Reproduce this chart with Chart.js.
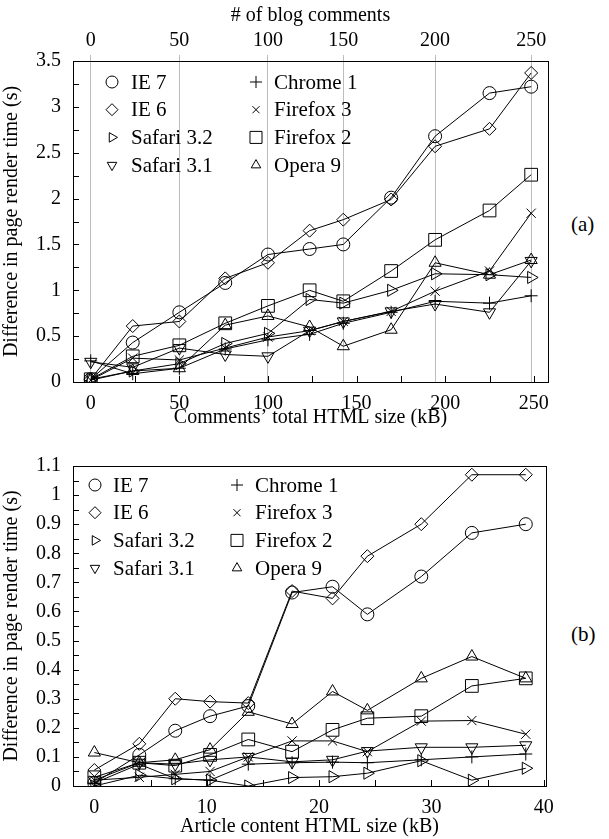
<!DOCTYPE html>
<html>
<head>
<meta charset="utf-8">
<script src="https://cdn.jsdelivr.net/npm/chart.js@4.4.1/dist/chart.umd.min.js"></script>
<style>
body { margin: 0; background: #fff; width: 609px; height: 839px; position: relative; overflow: hidden; font-family: "Liberation Serif", serif; }
.box { position: absolute; left: 0; width: 566px; }
#boxA { top: 0; height: 430px; }
#boxB { top: 440px; height: 399px; }
.tag { position: absolute; font-size: 21px; color: #000; }
</style>
</head>
<body>
<div class="box" id="boxA"><canvas id="chartA"></canvas></div>
<div class="box" id="boxB"><canvas id="chartB"></canvas></div>
<div class="tag" style="left:571px;top:212px">(a)</div>
<div class="tag" style="left:571px;top:622px">(b)</div>
<script>
const browsers = ["IE 7", "IE 6", "Safari 3.2", "Safari 3.1", "Chrome 1", "Firefox 3", "Firefox 2", "Opera 9"];

// (a) blog comments
const commentsKB = [0, 23.7, 50, 75.9, 100, 123.5, 142.5, 169.5, 194.3, 225, 248.5];
const commentTicks = [0, 50, 100, 150, 200, 250];
const ie7A = [0.03, 0.43, 0.76, 1.08, 1.39, 1.45, 1.50, 2.01, 2.68, 3.15, 3.22];
const ie6A = [0.03, 0.61, 0.66, 1.13, 1.30, 1.65, 1.77, 1.99, 2.57, 2.76, 3.37];
const safari32A = [0.03, 0.12, 0.20, 0.42, 0.53, 0.90, 0.86, 1.00, 1.18, 1.17, 1.14];
const safari31A = [0.22, 0.16, 0.37, 0.30, 0.28, 0.56, 0.66, 0.77, 0.85, 0.76, 1.32];
const chromeA = [0.23, 0.09, 0.15, 0.36, 0.46, 0.52, 0.64, 0.76, 0.88, 0.86, 0.94];
const firefox3A = [0.02, 0.26, 0.24, 0.37, 0.49, 0.56, 0.66, 0.77, 0.99, 1.21, 1.84];
const firefox2A = [0.03, 0.28, 0.40, 0.64, 0.83, 1.00, 0.88, 1.21, 1.55, 1.87, 2.26];
const operaA = [0.02, 0.12, 0.15, 0.62, 0.72, 0.60, 0.39, 0.57, 1.30, 1.17, 1.33];

// (b) article content
const articleKB = [0, 4.0, 7.2, 10.3, 13.7, 17.6, 21.2, 24.3, 29.1, 33.6, 38.4];
const ie7B = [0.01, 0.107, 0.19, 0.24, 0.275, 0.665, 0.685, 0.59, 0.72, 0.87, 0.90];
const ie6B = [0.055, 0.145, 0.30, 0.29, 0.285, 0.67, 0.645, 0.79, 0.90, 1.07, 1.07];
const safari32B = [0.0, 0.037, 0.025, 0.02, 0.0, 0.029, 0.032, 0.044, 0.087, 0.02, 0.061];
const safari31B = [0.02, 0.08, 0.075, 0.09, 0.10, 0.083, 0.09, 0.12, 0.133, 0.133, 0.14];
const chromeB = [0.01, 0.075, 0.025, 0.02, 0.075, 0.08, 0.082, 0.08, 0.09, 0.10, 0.11];
const firefox3B = [0.02, 0.03, 0.04, 0.05, 0.10, 0.155, 0.155, 0.118, 0.223, 0.225, 0.178];
const firefox2B = [0.03, 0.08, 0.07, 0.107, 0.16, 0.118, 0.193, 0.233, 0.24, 0.344, 0.37];
const operaB = [0.115, 0.08, 0.09, 0.125, 0.255, 0.213, 0.325, 0.26, 0.37, 0.445, 0.37];

const seriesA = [ie7A, ie6A, safari32A, safari31A, chromeA, firefox3A, firefox2A, operaA];
const seriesB = [ie7B, ie6B, safari32B, safari31B, chromeB, firefox3B, firefox2B, operaB];

// marker look per browser
const marks = [
  { style: "circle", rot: 0, r: 6.5, lr: 6 },
  { style: "rectRot", rot: 0, r: 6.5, lr: 6 },
  { style: "triangle", rot: 90, r: 7, lr: 5.5 },
  { style: "triangle", rot: 180, r: 7, lr: 5.5 },
  { style: "cross", rot: 0, r: 6.5, lr: 6 },
  { style: "crossRot", rot: 0, r: 6.5, lr: 5 },
  { style: "rect", rot: 0, r: 9, lr: 8.5 },
  { style: "triangle", rot: 0, r: 7, lr: 5.5 }
];

const FONT = { family: "Liberation Serif", size: 20 };
Chart.defaults.color = "#000";
Chart.defaults.font = FONT;

function makeSets(xs, series) {
  return series.map((ys, i) => ({
    label: browsers[i],
    data: xs.map((x, j) => ({ x: x, y: ys[j] })),
    borderColor: "#000",
    borderWidth: 1,
    pointStyle: marks[i].style,
    pointRotation: marks[i].rot,
    pointRadius: marks[i].r,
    pointBorderWidth: 1,
    pointBorderColor: "#000",
    pointBackgroundColor: "rgba(0,0,0,0)",
    tension: 0,
    fill: false
  }));
}

function isMult(v, m) {
  const q = v / m;
  return Math.abs(q - Math.round(q)) < 1e-6;
}

// frame, inward ticks and the two-column legend
const decor = {
  id: "decor",
  afterDraw(chart, args, opts) {
    const ctx = chart.ctx;
    const a = chart.chartArea;
    ctx.save();
    ctx.strokeStyle = "#000";
    ctx.lineWidth = 1;
    ctx.strokeRect(Math.round(a.left) + 0.5, Math.round(a.top) + 0.5, Math.round(a.right - a.left), Math.round(a.bottom - a.top));
    const xs = chart.scales.x, ys = chart.scales.y;
    ctx.beginPath();
    xs.ticks.forEach(t => {
      const px = Math.round(xs.getPixelForValue(t.value)) + 0.5;
      if (px <= a.left + 1 || px >= a.right - 1) return;
      ctx.moveTo(px, a.bottom);
      ctx.lineTo(px, a.bottom - 6);
    });
    ys.ticks.forEach(t => {
      const py = Math.round(ys.getPixelForValue(t.value)) + 0.5;
      if (py <= a.top + 1 || py >= a.bottom - 1) return;
      ctx.moveTo(a.left, py);
      ctx.lineTo(a.left + 6, py);
    });
    ctx.stroke();

    ctx.font = "21px " + FONT.family;
    ctx.fillStyle = "#000";
    ctx.textBaseline = "middle";
    const dp = Chart.helpers && Chart.helpers.drawPoint;
    browsers.forEach((name, i) => {
      const col = i < 4 ? 0 : 1, row = i % 4;
      const mx = opts.markX[col], tx = opts.textX[col];
      const y = opts.top + row * opts.step;
      if (dp) {
        ctx.fillStyle = "rgba(0,0,0,0)";
        dp(ctx, { pointStyle: marks[i].style, rotation: marks[i].rot, radius: marks[i].lr, borderWidth: 1 }, mx, y);
      }
      ctx.fillStyle = "#000";
      ctx.fillText(name, tx, y + 1);
    });
    ctx.restore();
  }
};

new Chart("chartA", {
  type: "line",
  data: { datasets: makeSets(commentsKB, seriesA) },
  plugins: [decor],
  options: {
    responsive: true,
    maintainAspectRatio: false,
    animation: false,
    layout: { padding: { left: 0, right: 18, top: 0, bottom: 0 } },
    plugins: {
      legend: { display: false },
      tooltip: { enabled: false },
      decor: { markX: [112, 256], textX: [131, 274], top: 82, step: 27.7 }
    },
    scales: {
      x: {
        type: "linear", position: "bottom", min: -10, max: 258,
        grid: { display: false }, border: { display: false },
        ticks: { stepSize: 25, includeBounds: false, autoSkip: false, maxRotation: 0, padding: 2,
          callback: v => isMult(v, 50) ? String(v) : "" },
        title: { display: true, text: "Comments’ total HTML size (kB)", padding: { top: 0, bottom: 0 } },
        afterFit: s => { s.height = 48; }
      },
      x2: {
        type: "linear", position: "top", min: -10, max: 258,
        grid: { display: true, color: "#bdbdbd", lineWidth: 1, drawTicks: true, tickLength: 6, tickColor: "#bdbdbd" },
        border: { display: false },
        afterBuildTicks: s => { s.ticks = commentTicks.map((c, i) => ({ value: commentsKB[i * 2] })); },
        ticks: { autoSkip: false, maxRotation: 0, padding: 2, callback: (v, i) => String(commentTicks[i]) },
        title: { display: true, text: "# of blog comments", padding: { top: 4, bottom: 0 } },
        afterFit: s => { s.height = 61; }
      },
      y: {
        min: 0, max: 3.5,
        grid: { display: false }, border: { display: false },
        ticks: { stepSize: 0.25, autoSkip: false, padding: 4,
          callback: v => isMult(v, 0.5) ? String(Math.round(v * 100) / 100) : "" },
        title: { display: true, text: "Difference in page render time (s)", padding: { top: 0, bottom: 0 } },
        afterFit: s => { s.width = 73; }
      }
    }
  }
});

new Chart("chartB", {
  type: "line",
  data: { datasets: makeSets(articleKB, seriesB) },
  plugins: [decor],
  options: {
    responsive: true,
    maintainAspectRatio: false,
    animation: false,
    layout: { padding: { left: 0, right: 20, top: 26, bottom: 0 } },
    plugins: {
      legend: { display: false },
      tooltip: { enabled: false },
      decor: { markX: [95, 237], textX: [113, 255], top: 45, step: 27.7 }
    },
    scales: {
      x: {
        type: "linear", position: "bottom", min: -1.9, max: 40.2,
        grid: { display: false }, border: { display: false },
        ticks: { stepSize: 5, includeBounds: false, autoSkip: false, maxRotation: 0, padding: 2,
          callback: v => isMult(v, 10) ? String(v) : "" },
        title: { display: true, text: "Article content HTML size (kB)", padding: { top: 0, bottom: 0 } },
        afterFit: s => { s.height = 53; }
      },
      y: {
        min: 0, max: 1.1,
        grid: { display: false }, border: { display: false },
        ticks: { stepSize: 0.05, autoSkip: false, padding: 4,
          callback: v => isMult(v, 0.1) ? String(Math.round(v * 100) / 100) : "" },
        title: { display: true, text: "Difference in page render time (s)", padding: { top: 0, bottom: 0 } },
        afterFit: s => { s.width = 73; }
      }
    }
  }
});
</script>
</body>
</html>
